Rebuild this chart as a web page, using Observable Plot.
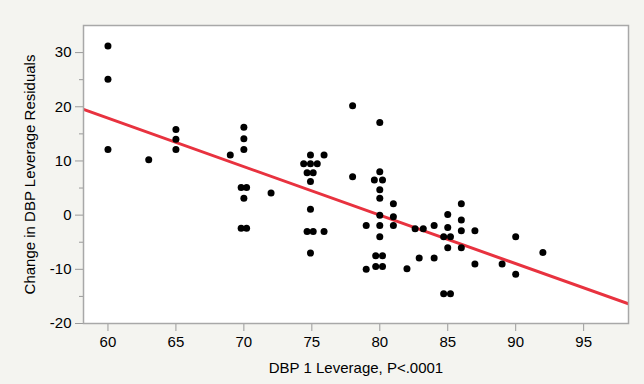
<!DOCTYPE html>
<html>
<head>
<meta charset="utf-8">
<script src="https://cdn.jsdelivr.net/npm/d3@7"></script>
<script src="https://cdn.jsdelivr.net/npm/@observablehq/plot@0.6"></script>
<style>
  html, body { margin: 0; padding: 0; background: #f4f4f0; }
  #chart { width: 644px; height: 384px; }
</style>
</head>
<body>
<div id="chart"></div>
<script>
// DBP 1 leverage (x) values
const leverageX = [
  60, 60, 60,
  63,
  65, 65, 65,
  69,
  70, 70, 70, 70, 69.8, 70.2, 69.8, 70.2,
  72,
  74.9, 75.9, 74.4, 74.9, 75.4, 74.65, 75.1, 74.9, 74.9, 74.65, 75.1, 75.9, 74.9,
  78, 78,
  79, 79,
  80, 80, 79.6, 80.2, 80, 80, 80, 80, 80, 79.7, 80.2, 79.7, 80.2,
  81, 81, 81,
  82,
  82.6, 83.2, 82.9,
  84, 84,
  85, 85, 84.7, 85.2, 85, 84.7, 85.2,
  86, 86, 86, 86,
  87, 87,
  89,
  90, 90,
  92
];
// Change in DBP leverage residuals (y) values
const residualY = [
  31.2, 25.1, 12.1,
  10.2,
  15.8, 14.0, 12.1,
  11.1,
  16.2, 14.1, 12.1, 3.1, 5.1, 5.1, -2.4, -2.4,
  4.1,
  11.1, 11.1, 9.5, 9.5, 9.5, 7.8, 7.8, 6.2, 1.1, -3.0, -3.0, -3.0, -7.0,
  20.2, 7.1,
  -1.9, -10.0,
  17.1, 8.0, 6.5, 6.5, 4.7, 3.1, 0.0, -1.9, -4.0, -7.5, -7.5, -9.5, -9.5,
  2.1, -0.3, -1.9,
  -9.9,
  -2.5, -2.5, -7.9,
  -1.9, -7.9,
  0.1, -2.3, -4.0, -4.0, -6.0, -14.5, -14.5,
  2.1, -0.9, -2.9, -6.0,
  -2.9, -9.0,
  -9.0,
  -4.0, -10.9,
  -6.9
];
// Fitted line
const fitIntercept = 71.6;
const fitSlope = -0.895;
// Axis ticks
const xTicks = [60, 65, 70, 75, 80, 85, 90, 95];
const yTicks = [-20, -10, 0, 10, 20, 30];
const yMinorTicks = [-15, -5, 5, 15, 25];
const xDomain = [58.2, 98.3];
const yDomain = [-20, 35];

const points = leverageX.map((x, i) => ({x, y: residualY[i]}));
const fitLine = xDomain.map(x => ({x, y: fitIntercept + fitSlope * x}));

const chart = Plot.plot({
  width: 644,
  height: 384,
  marginLeft: 83,
  marginRight: 16,
  marginTop: 25,
  marginBottom: 61,
  x: {domain: xDomain},
  y: {domain: yDomain},
  style: {
    background: "#f4f4f0",
    fontFamily: "'Liberation Sans', Arial, Helvetica, sans-serif",
    fontSize: "15px",
    color: "black"
  },
  marks: [
    Plot.frame({fill: "white", stroke: null}),
    Plot.axisY(yMinorTicks, {tickSize: 4, text: null, stroke: "#9a9a9a", label: null}),
    Plot.axisY(yTicks, {
      tickSize: 8, tickPadding: 4, stroke: "#9a9a9a", fill: "black",
      tickFormat: d => String(d),
      label: "Change in DBP Leverage Residuals", labelAnchor: "center",
      labelArrow: "none", labelOffset: 59
    }),
    Plot.axisX(xTicks, {
      tickSize: 8, tickPadding: 5, stroke: "#9a9a9a", fill: "black",
      tickFormat: d => String(d),
      label: "DBP 1 Leverage, P<.0001", labelAnchor: "center",
      labelArrow: "none", labelOffset: 49
    }),
    Plot.line(fitLine, {x: "x", y: "y", stroke: "#e8323f", strokeWidth: 3, clip: true}),
    Plot.dot(points, {x: "x", y: "y", r: 3.5, fill: "black", stroke: null}),
    Plot.frame({stroke: "#a8a8a8", strokeWidth: 1.5})
  ]
});
document.getElementById("chart").appendChild(chart);
</script>
</body>
</html>
